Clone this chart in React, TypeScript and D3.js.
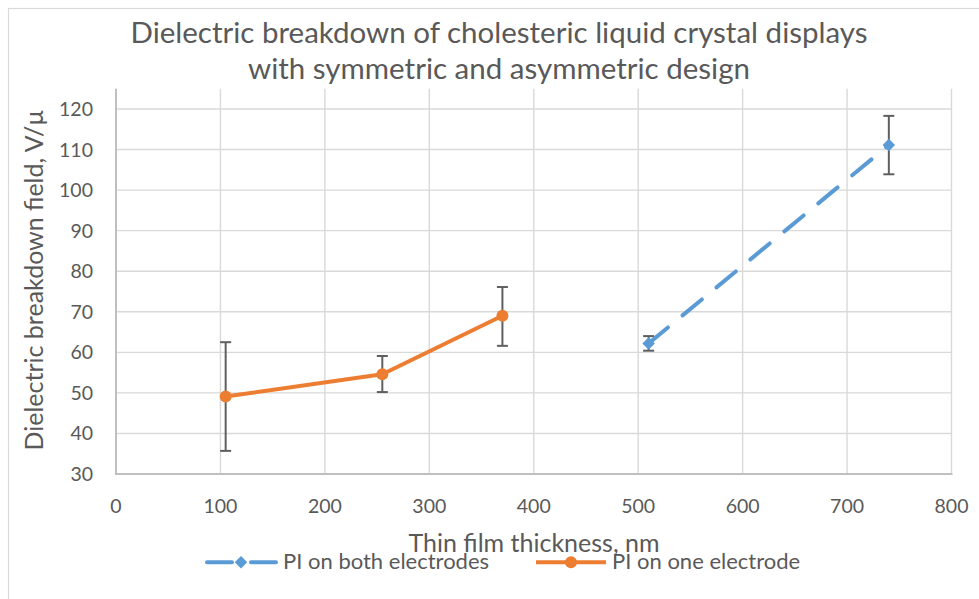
import React from "react";
import * as d3 from "d3";

// ---- Data ----
const xTicks = [0, 100, 200, 300, 400, 500, 600, 700, 800];
const yTicks = [30, 40, 50, 60, 70, 80, 90, 100, 110, 120];

const bothX = [510, 740];
const bothY = [62.2, 111.1];
const bothErrLow = [60.4, 103.9];
const bothErrHigh = [64.0, 118.3];

const oneX = [105, 255, 370];
const oneY = [49.1, 54.6, 69.0];
const oneErrLow = [35.7, 50.2, 61.6];
const oneErrHigh = [62.5, 59.1, 76.1];

const titleLines = [
  "Dielectric breakdown of cholesteric liquid crystal displays",
  "with symmetric and asymmetric design",
];
const xTitle = "Thin film thickness, nm";
const yTitle = "Dielectric breakdown field, V/\u00b5";
const seriesNames = ["PI on both electrodes", "PI on one electrode"];

const BLUE = "#5B9BD5";
const ORANGE = "#ED7D31";
const TEXT = "#595959";
const GRID = "#D9D9D9";
const AXIS = "#BFBFBF";
const ERR = "#5F5F5F";
const FONT = "Lato, 'Open Sans', sans-serif";

export default function App() {
  const x = d3.scaleLinear().domain([0, 800]).range([116, 951.5]);
  const y = d3.scaleLinear().domain([30, 125]).range([474, 88.7]);

  const line = d3
    .line<[number, number]>()
    .x((d) => x(d[0]))
    .y((d) => y(d[1]));

  const bothPts: [number, number][] = bothX.map((v, i) => [v, bothY[i]]);
  const onePts: [number, number][] = oneX.map((v, i) => [v, oneY[i]]);

  const diamond = d3.symbol().type(d3.symbolDiamond2).size(100)();
  const capHalf = 5.5;

  const errBars = (xs: number[], lo: number[], hi: number[], key: string) =>
    xs.map((xv, i) => (
      <g key={key + i} stroke={ERR} strokeWidth={2} fill="none">
        <line x1={x(xv)} x2={x(xv)} y1={y(lo[i])} y2={y(hi[i])} />
        <line x1={x(xv) - capHalf} x2={x(xv) + capHalf} y1={y(lo[i])} y2={y(lo[i])} />
        <line x1={x(xv) - capHalf} x2={x(xv) + capHalf} y1={y(hi[i])} y2={y(hi[i])} />
      </g>
    ));

  const legendY = 562.3;

  return (
    <svg
      width={979}
      height={599}
      style={{ position: "absolute", left: 0, top: 0, background: "#fff" }}
      fontFamily={FONT}
    >
      <rect x={0} y={0} width={979} height={599} fill="#fff" />
      {/* chart border (cropped right/bottom) */}
      <rect x={8.5} y={8.5} width={1100} height={800} fill="none" stroke={GRID} strokeWidth={1.2} />

      {/* title */}
      {titleLines.map((t, i) => (
        <text
          key={t}
          x={499}
          y={43 + i * 36}
          textAnchor="middle"
          fontSize={29.5}
          fill={TEXT}
        >
          {t}
        </text>
      ))}

      {/* gridlines */}
      {yTicks
        .filter((t) => t > 30)
        .map((t) => (
          <line key={"gy" + t} x1={x(0)} x2={x(800)} y1={y(t)} y2={y(t)} stroke={GRID} strokeWidth={1.4} />
        ))}
      {xTicks
        .filter((t) => t > 0)
        .map((t) => (
          <line key={"gx" + t} x1={x(t)} x2={x(t)} y1={y(30)} y2={y(125)} stroke={GRID} strokeWidth={1.4} />
        ))}

      {/* axes */}
      <line x1={x(0)} x2={x(0)} y1={y(30)} y2={y(125)} stroke={AXIS} strokeWidth={2} />
      <line x1={x(0) - 1} x2={x(800) + 1} y1={y(30)} y2={y(30)} stroke={AXIS} strokeWidth={2} />

      {/* tick labels */}
      {yTicks.map((t) => (
        <text key={"ty" + t} x={93} y={y(t) + 7} textAnchor="end" fontSize={19.5} fill={TEXT}>
          {t}
        </text>
      ))}
      {xTicks.map((t) => (
        <text key={"tx" + t} x={x(t)} y={513} textAnchor="middle" fontSize={19.5} fill={TEXT}>
          {t}
        </text>
      ))}

      {/* axis titles */}
      <text x={534} y={552} textAnchor="middle" fontSize={25} fill={TEXT}>
        {xTitle}
      </text>
      <text transform="translate(43,280) rotate(-90)" textAnchor="middle" fontSize={25} fill={TEXT}>
        {yTitle}
      </text>

      {/* error bars */}
      {errBars(bothX, bothErrLow, bothErrHigh, "eb")}
      {errBars(oneX, oneErrLow, oneErrHigh, "eo")}

      {/* series lines */}
      <path
        d={line(bothPts) || ""}
        fill="none"
        stroke={BLUE}
        strokeWidth={4}
        strokeDasharray="25 19"
        strokeLinecap="round"
      />
      <path d={line(onePts) || ""} fill="none" stroke={ORANGE} strokeWidth={4} strokeLinejoin="round" />

      {/* markers */}
      {bothPts.map((p, i) => (
        <path key={"mb" + i} d={diamond || ""} transform={`translate(${x(p[0])},${y(p[1])})`} fill={BLUE} />
      ))}
      {onePts.map((p, i) => (
        <circle key={"mo" + i} cx={x(p[0])} cy={y(p[1])} r={6} fill={ORANGE} />
      ))}

      {/* legend */}
      <line
        x1={207}
        x2={276}
        y1={legendY}
        y2={legendY}
        stroke={BLUE}
        strokeWidth={4}
        strokeDasharray="25 19"
        strokeLinecap="round"
      />
      <path d={diamond || ""} transform={`translate(241,${legendY})`} fill={BLUE} />
      <text x={283} y={568.5} fontSize={22} fill={TEXT}>
        {seriesNames[0]}
      </text>
      <line x1={536} x2={606} y1={legendY} y2={legendY} stroke={ORANGE} strokeWidth={4} />
      <circle cx={571} cy={legendY} r={6} fill={ORANGE} />
      <text x={612} y={568.5} fontSize={22} fill={TEXT}>
        {seriesNames[1]}
      </text>
    </svg>
  );
}
